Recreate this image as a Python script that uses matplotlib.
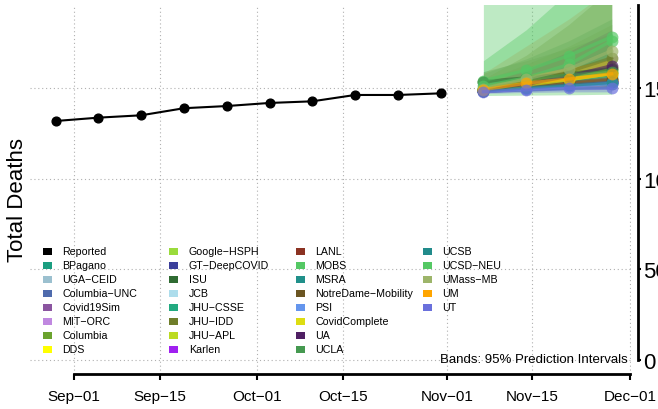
import pandas as pd
import matplotlib
matplotlib.use("Agg")
import matplotlib.pyplot as plt
import matplotlib.dates as mdates
from matplotlib.patches import Rectangle

plt.rcParams["font.family"] = ["Liberation Sans", "DejaVu Sans"]

# ── data ────────────────────────────────────────────────────────────────
report_dates = pd.to_datetime(["2020-08-29", "2020-09-05", "2020-09-12", "2020-09-19",
                               "2020-09-26", "2020-10-03", "2020-10-10", "2020-10-17",
                               "2020-10-24", "2020-10-31"])
reported = [13175, 13360, 13490, 13880, 14000, 14170, 14260, 14610, 14610, 14700]

fc_dates = pd.to_datetime(["2020-11-07", "2020-11-14", "2020-11-21", "2020-11-28"])

models = ["BPagano", "UGA\u2212CEID", "Columbia\u2212UNC", "Covid19Sim", "MIT\u2212ORC",
          "Columbia", "DDS", "Google\u2212HSPH", "GT\u2212DeepCOVID", "ISU", "JCB",
          "JHU\u2212CSSE", "JHU\u2212IDD", "JHU\u2212APL", "Karlen", "LANL", "MOBS", "MSRA",
          "NotreDame\u2212Mobility", "PSI", "CovidComplete", "UA", "UCLA", "UCSB",
          "UCSD\u2212NEU", "UMass\u2212MB", "UM", "UT"]
model_colors = ["#1B9E80", "#9BC0CF", "#4F6BAD", "#8B55A0", "#C088E0", "#6BA32E",
                "#FFFF00", "#9ADB3C", "#3B3F9A", "#2F6B32", "#ADDDEC", "#22AA80",
                "#6F7E2A", "#BCDB22", "#A020F0", "#8B3222", "#54C864", "#20908A",
                "#6B5522", "#6495ED", "#DDDD11", "#4F1F63", "#459950", "#218B8B",
                "#55C864", "#9DB56A", "#FFA500", "#6A70DC"]

point = {
    "BPagano": [14850, 15000, 15150, 15300],
    "UGA\u2212CEID": [14900, 15100, 15300, 15500],
    "Columbia\u2212UNC": [14820, 14950, 15100, 15250],
    "Covid19Sim": [14880, 15050, 15200, 15350],
    "MIT\u2212ORC": [14830, 14950, 15080, 15200],
    "Columbia": [14950, 15300, 15700, 16100],
    "DDS": [14870, 15050, 15250, 15450],
    "Google\u2212HSPH": [14950, 15250, 15600, 16000],
    "GT\u2212DeepCOVID": [14850, 15000, 15150, 15300],
    "ISU": [15350, 15550, 15800, 16050],
    "JCB": [14880, 15080, 15300, 15500],
    "JHU\u2212CSSE": [14900, 15150, 15400, 15650],
    "JHU\u2212IDD": [14900, 15300, 15900, 16650],
    "JHU\u2212APL": [14900, 15150, 15450, 15800],
    "Karlen": [14850, 15000, 15150, 15300],
    "LANL": [14880, 15050, 15250, 15450],
    "MOBS": [15400, 15970, 16780, 17820],
    "MSRA": [14850, 14980, 15100, 15230],
    "NotreDame\u2212Mobility": [14900, 15100, 15300, 15500],
    "PSI": [14830, 14950, 15080, 15250],
    "CovidComplete": [14900, 15150, 15450, 15800],
    "UA": [14850, 15200, 15650, 16220],
    "UCLA": [15300, 15500, 15700, 15900],
    "UCSB": [14850, 15000, 15150, 15300],
    "UCSD\u2212NEU": [15100, 15550, 16300, 17600],
    "UMass\u2212MB": [14950, 15500, 16040, 17050],
    "UM": [14900, 15260, 15490, 15780],
    "UT": [14790, 14900, 14980, 14980],
}
lower = {
    "BPagano": [14760, 14850, 14950, 15000],
    "UGA\u2212CEID": [14750, 14850, 14950, 15050],
    "Columbia\u2212UNC": [14760, 14820, 14900, 14980],
    "Covid19Sim": [14780, 14880, 14950, 15000],
    "MIT\u2212ORC": [14760, 14820, 14880, 14920],
    "Columbia": [14800, 14950, 15100, 15250],
    "DDS": [14760, 14850, 14950, 15050],
    "Google\u2212HSPH": [14800, 14950, 15100, 15250],
    "GT\u2212DeepCOVID": [14760, 14850, 14950, 15000],
    "ISU": [15000, 15050, 15100, 15150],
    "JCB": [14780, 14880, 14980, 15050],
    "JHU\u2212CSSE": [14800, 14950, 15050, 15150],
    "JHU\u2212IDD": [14800, 14950, 15150, 15400],
    "JHU\u2212APL": [14800, 14950, 15100, 15250],
    "Karlen": [14760, 14850, 14950, 15000],
    "LANL": [14780, 14880, 14980, 15050],
    "MOBS": [14900, 15100, 15350, 15650],
    "MSRA": [14760, 14850, 14930, 14980],
    "NotreDame\u2212Mobility": [14780, 14900, 15000, 15100],
    "PSI": [14750, 14820, 14900, 14980],
    "CovidComplete": [14800, 14950, 15100, 15250],
    "UA": [14750, 14950, 15150, 15400],
    "UCLA": [14950, 15000, 15050, 15100],
    "UCSB": [14760, 14850, 14950, 15000],
    "UCSD\u2212NEU": [14580, 14600, 14620, 14650],
    "UMass\u2212MB": [14750, 14950, 15150, 15400],
    "UM": [14780, 14950, 15050, 15150],
    "UT": [14700, 14750, 14780, 14780],
}
upper = {
    "BPagano": [14950, 15200, 15450, 15700],
    "UGA\u2212CEID": [15100, 15450, 15800, 16200],
    "Columbia\u2212UNC": [14900, 15100, 15300, 15550],
    "Covid19Sim": [15000, 15250, 15500, 15800],
    "MIT\u2212ORC": [14920, 15100, 15280, 15500],
    "Columbia": [15400, 16300, 17300, 18500],
    "DDS": [15000, 15300, 15600, 15900],
    "Google\u2212HSPH": [15300, 16000, 16900, 18000],
    "GT\u2212DeepCOVID": [14950, 15200, 15400, 15650],
    "ISU": [15900, 16500, 17200, 18000],
    "JCB": [15000, 15300, 15650, 16000],
    "JHU\u2212CSSE": [15200, 15700, 16300, 17000],
    "JHU\u2212IDD": [15500, 16800, 18500, 20500],
    "JHU\u2212APL": [15100, 15500, 16000, 16600],
    "Karlen": [14950, 15200, 15400, 15650],
    "LANL": [15000, 15300, 15600, 15950],
    "MOBS": [16500, 18200, 20300, 22500],
    "MSRA": [14950, 15150, 15300, 15500],
    "NotreDame\u2212Mobility": [15050, 15350, 15650, 16000],
    "PSI": [14920, 15100, 15300, 15550],
    "CovidComplete": [15100, 15500, 16000, 16600],
    "UA": [15200, 16000, 17000, 18200],
    "UCLA": [15800, 16600, 17600, 18800],
    "UCSB": [14950, 15200, 15400, 15650],
    "UCSD\u2212NEU": [20000, 23000, 26000, 29000],
    "UMass\u2212MB": [15800, 17300, 18800, 20500],
    "UM": [15100, 15700, 16100, 16600],
    "UT": [14900, 15050, 15150, 15200],
}

tick_dates = pd.to_datetime(["2020-09-01", "2020-09-15", "2020-10-01", "2020-10-15",
                             "2020-11-01", "2020-11-15", "2020-12-01"])
tick_labels = ["Sep\u221201", "Sep\u221215", "Oct\u221201", "Oct\u221215",
               "Nov\u221201", "Nov\u221215", "Dec\u221201"]
y_ticks = [0, 5000, 10000, 15000]
y_tick_labels = ["0", "5000", "10000", "15000"]

# ── figure ──────────────────────────────────────────────────────────────
W, H = 658, 410
fig = plt.figure(figsize=(W / 100, H / 100), dpi=100)
ax = fig.add_axes([30 / W, 35 / H, 601 / W, 369 / H])

x0 = mdates.date2num(tick_dates[0])
ax.set_xlim(x0 - 7.2, x0 + 91.16)
y_top = 19570
ax.set_ylim(-772, y_top)

ax.set_xticks(tick_dates)
ax.set_xticklabels(tick_labels)
ax.set_yticks(y_ticks)
ax.set_yticklabels(y_tick_labels)
ax.grid(True, color="#b0b0b0", linestyle=(0, (1, 2.5)), linewidth=0.8)
ax.set_axisbelow(True)

# bands
for m, c in zip(models, model_colors):
    ax.fill_between(fc_dates, lower[m], upper[m], color=c, alpha=0.38, linewidth=0)

# forecast lines + points
for m, c in zip(models, model_colors):
    ax.plot(fc_dates, point[m], color=c, linewidth=2.4, alpha=0.6)
    ax.plot(fc_dates, point[m], linestyle="none", marker="o", markersize=8.5,
            color=c, alpha=0.7, markeredgewidth=0)

ax.plot(report_dates, reported, color="black", linewidth=1.5, marker="o",
        markersize=6.3)

for s in ("left", "top"):
    ax.spines[s].set_visible(False)
ax.spines["right"].set_position(("outward", 5))
ax.spines["right"].set_bounds(0, y_top)
ax.spines["right"].set_linewidth(2)
ax.spines["bottom"].set_bounds(mdates.date2num(tick_dates[0]), mdates.date2num(tick_dates[-1]))
ax.spines["bottom"].set_linewidth(2)
ax.yaxis.tick_right()
ax.tick_params(axis="y", length=2.5, width=1.5, pad=1, labelsize=16)
ax.tick_params(axis="x", length=4, width=1.5, pad=6.5, labelsize=11)

fig.text(18 / W, 1 - 200 / H, "Total Deaths", rotation=90, ha="center", va="center",
         fontsize=16)
fig.text(628 / W, 1 - 360 / H, "Bands: 95% Prediction Intervals", ha="right",
         va="center", fontsize=9.5)

# legend (R-style equal width columns)
leg_names = ["Reported"] + models
leg_colors = ["black"] + model_colors
for i, (name, c) in enumerate(zip(leg_names, leg_colors)):
    col, row = divmod(i, 8)
    xl = 42.7 + col * 126.7
    yc = 252.3 + row * 14.0
    fig.add_artist(Rectangle((xl / W, 1 - (yc + 3.4) / H), 9 / W, 6.8 / H,
                             transform=fig.transFigure, facecolor=c, edgecolor="none"))
    fig.text((xl + 19.5) / W, 1 - yc / H, name, ha="left", va="center", fontsize=7.7)

fig.savefig("out.png", dpi=100)
